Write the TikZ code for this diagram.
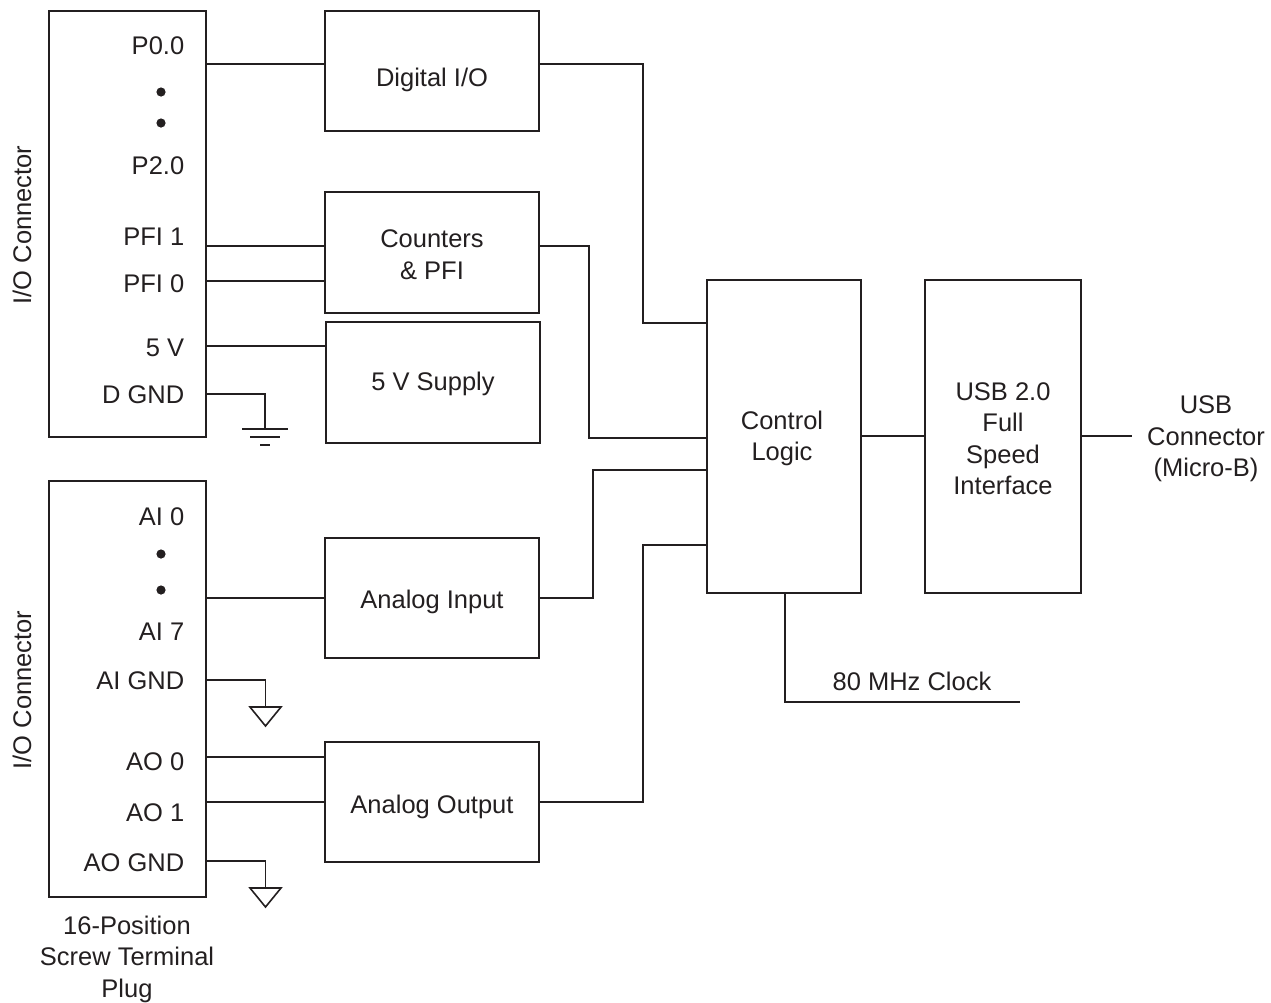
\documentclass[tikz,border=0pt]{standalone}
\usepackage{fontspec}
\setmainfont{Liberation Sans}
\definecolor{ink}{HTML}{231F20}
\begin{document}
\begin{tikzpicture}[x=1pt,y=-1pt,
  line width=1.6pt, draw=ink,
  every node/.style={font=\fontsize{25.5}{31.5}\selectfont, inner sep=0pt, text=ink},
  box/.style={draw=ink, rectangle, align=center, line width=1.6pt},
  caption/.style={anchor=base, align=center},
  pinlabel/.style={anchor=east},
  wire/.style={draw=ink, line width=1.6pt}]
\useasboundingbox (0,0) rectangle (1271,1002);

% connector blocks
\node[box, minimum width=157pt, minimum height=426pt] (conA) at (127.5,224) {};
\node[box, minimum width=157pt, minimum height=416pt] (conB) at (127.5,689) {};
\node[rotate=90] (lblA) at (22,225) {I/O Connector};
\node[rotate=90] (lblB) at (22,690) {I/O Connector};
\node[align=center] (plug) at (127,959) {16-Position\\Screw Terminal\\Plug};

% pin labels upper
\node[pinlabel] (tP00) at (185,46) {P0.0};
\fill[ink] (161,92) circle (4.6);
\fill[ink] (161,123) circle (4.6);
\node[pinlabel] (tP20) at (185,166) {P2.0};
\node[pinlabel] (tPFI1) at (185,237) {PFI 1};
\node[pinlabel] (tPFI0) at (185,284) {PFI 0};
\node[pinlabel] (t5V) at (185,348) {5 V};
\node[pinlabel] (tDGND) at (185,395) {D GND};

% pin labels lower
\node[pinlabel] (tAI0) at (185,517) {AI 0};
\fill[ink] (161,554) circle (4.6);
\fill[ink] (161,590) circle (4.6);
\node[pinlabel] (tAI7) at (185,632) {AI 7};
\node[pinlabel] (tAIGND) at (185,681) {AI GND};
\node[pinlabel] (tAO0) at (185,762) {AO 0};
\node[pinlabel] (tAO1) at (185,813) {AO 1};
\node[pinlabel] (tAOGND) at (185,863) {AO GND};

% function blocks
\node[box, minimum width=214pt, minimum height=120pt] (dio) at (432,71) {};
\node[caption] (dioT) at (432,86) {Digital I/O};
\node[box, minimum width=214pt, minimum height=121pt] (cnt) at (432,252.5) {};
\node[align=center] (cntT) at (432,254.5) {Counters\\\& PFI};
\node[box, minimum width=214pt, minimum height=121pt] (sup) at (433,382.5) {};
\node[caption] (supT) at (433,390) {5 V Supply};
\node[box, minimum width=214pt, minimum height=120pt] (ain) at (432,598) {};
\node[caption] (ainT) at (432,608) {Analog Input};
\node[box, minimum width=214pt, minimum height=120pt] (aout) at (432,802) {};
\node[caption] (aoutT) at (432,813) {Analog Output};
\node[box, minimum width=154pt, minimum height=313pt] (ctl) at (784,436.5) {};
\node[align=center] (ctlT) at (782,438.5) {Control\\Logic};
\node[box, minimum width=156pt, minimum height=313pt] (usb) at (1003,436.5) {};
\node[align=center] (usbT) at (1003,438.5) {USB 2.0\\Full\\Speed\\Interface};
\node[align=center] (usbc) at (1206,439) {USB\\Connector\\(Micro-B)};
\node[caption] (clk) at (912,690) {80 MHz Clock};

% pin coordinates on connector edge
\coordinate (pP00) at (conA.east |- 0,64);
\coordinate (pPFI1) at (conA.east |- 0,246);
\coordinate (pPFI0) at (conA.east |- 0,281);
\coordinate (p5V) at (conA.east |- 0,346);
\coordinate (pDGND) at (conA.east |- 0,394);
\coordinate (pAI) at (conB.east |- 0,598);
\coordinate (pAIGND) at (conB.east |- 0,680);
\coordinate (pAO0) at (conB.east |- 0,757);
\coordinate (pAO1) at (conB.east |- 0,802);
\coordinate (pAOGND) at (conB.east |- 0,861);

% connector to blocks
\draw[wire] (pP00) -- (pP00 -| dio.west);
\draw[wire] (pPFI1) -- (pPFI1 -| cnt.west);
\draw[wire] (pPFI0) -- (pPFI0 -| cnt.west);
\draw[wire] (p5V) -- (p5V -| sup.west);
\draw[wire] (pAI) -- (pAI -| ain.west);
\draw[wire] (pAO0) -- (pAO0 -| aout.west);
\draw[wire] (pAO1) -- (pAO1 -| aout.west);

% grounds
\coordinate (gD) at (265,429);
\draw[wire] (pDGND) -| (gD);
\draw[wire] (242,429) -- (288,429);
\draw[wire] (250,437) -- (280,437);
\draw[wire] (260,445) -- (270,445);

\coordinate (gA) at (265.5,707);
\draw[wire] (pAIGND) -| (gA);
\draw[wire] (250,707) -- (281,707) -- (265.5,726) -- cycle;

\coordinate (gO) at (265.5,888);
\draw[wire] (pAOGND) -| (gO);
\draw[wire] (250,888) -- (281,888) -- (265.5,907) -- cycle;

% blocks to control logic
\draw[wire] (dio.east |- 0,64) -- (643,64) |- (ctl.west |- 0,323);
\draw[wire] (cnt.east |- 0,246) -- (589,246) |- (ctl.west |- 0,438);
\draw[wire] (ain.east) -- (593,598) |- (ctl.west |- 0,470);
\draw[wire] (aout.east) -- (643,802) |- (ctl.west |- 0,545);

% control to usb, usb to connector
\coordinate (cu) at (861,436);
\draw[wire] (ctl.east |- cu) -- (usb.west |- cu);
\coordinate (uc) at (1132,436);
\draw[wire] (usb.east |- uc) -- (uc);

% clock
\coordinate (clkend) at (1020,702);
\draw[wire] (ctl.south -| 785,0) |- (clkend);
\end{tikzpicture}
\end{document}
